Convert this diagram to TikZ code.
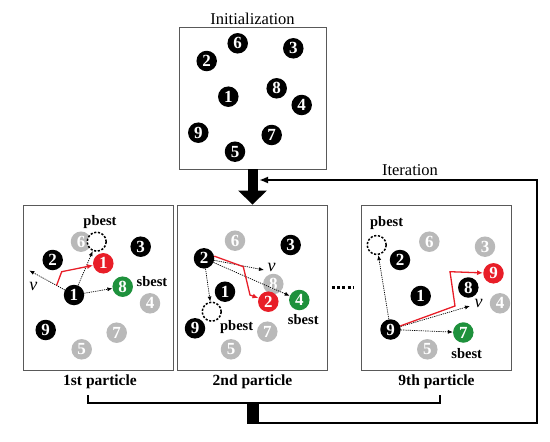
\documentclass[tikz,border=0pt]{standalone}
\usepackage{fontspec}
\setmainfont{Liberation Serif}
\usepackage{tikz}
\usetikzlibrary{arrows.meta, calc, positioning}

\definecolor{ballgrey}{RGB}{185,185,185}
\definecolor{ballred}{RGB}{232,30,40}
\definecolor{ballgreen}{RGB}{30,145,60}

\tikzset{
  ball/.style={circle, inner sep=0pt, minimum size=20.5pt, text=white, font=\bfseries\fontsize{17}{17}\selectfont},
  dark/.style={ball, fill=black},
  faded/.style={ball, fill=ballgrey},
  newpos/.style={ball, fill=ballred},
  best/.style={ball, fill=ballgreen},
  pmark/.style={circle, draw, fill=white, dash pattern=on 2.2pt off 1.6pt, line width=1.5pt, minimum size=19pt, inner sep=0pt},
  vel/.style={-{Latex[length=5pt,width=4pt]}, dash pattern=on 1.2pt off 1pt, line width=0.7pt},
  redmove/.style={-{Latex[length=6pt,width=5pt]}, ballred, line width=1.3pt},
  panelbox/.style={draw=black!65, line width=0.9pt, minimum width=150pt, minimum height=165pt},
  besttag/.style={font=\bfseries\fontsize{14.5}{14.5}\selectfont, inner sep=1pt},
  partcap/.style={font=\bfseries\fontsize{15.5}{15.5}\selectfont},
  veltxt/.style={font=\itshape\fontsize{18}{18}\selectfont, inner sep=1pt},
}

\begin{document}
\begin{tikzpicture}[x=1pt, y=-1pt, >=latex, font=\fontsize{16.5}{18}\selectfont]
    \useasboundingbox (0,0) rectangle (550,442);

    % 1. Khung khởi tạo
    \node[panelbox, minimum width=147pt, minimum height=142pt] (init) at (252.5,98) {};
    \node[above=-2pt of init] (inittxt) {Initialization};
    \node[dark] (i6) at (237.7,43.3) {6};
    \node[dark] (i3) at (293.3,48.3) {3};
    \node[dark] (i2) at (206.7,61) {2};
    \node[dark] (i1) at (228.3,96.7) {1};
    \node[dark] (i8) at (276.7,88.3) {8};
    \node[dark] (i4) at (301.7,105) {4};
    \node[dark] (i9) at (198.3,132.7) {9};
    \node[dark] (i7) at (271.7,135) {7};
    \node[dark] (i5) at (235,151.7) {5};

    % 2. Các khung hạt
    \node[panelbox] (p1) at (98,287.5) {};
    \node[panelbox] (p2) at (252.5,287.5) {};
    \node[panelbox] (p3) at (436.5,287.5) {};
    \node[partcap, below=1pt of p1, xshift=2pt] (cap1) {1st particle};
    \node[partcap, below=1pt of p2] (cap2) {2nd particle};
    \node[partcap, below=1pt of p3] (cap3) {9th particle};
    \draw[line width=3pt, dash pattern=on 3pt off 2.2pt] ([xshift=4pt]p2.east) -- ([xshift=-7pt]p3.west);

    % 3. Hạt thứ nhất
    \node[faded] (a6) at (81,241.7) {6};
    \node[pmark] (apb) at (96.7,241.7) {};
    \node[besttag] (apbtxt) at (100,222.3) {pbest};
    \node[dark] (a3) at (140.7,246.7) {3};
    \node[dark] (a2) at (52.7,260) {2};
    \node[newpos] (anew) at (103.3,263.3) {1};
    \node[dark] (a1) at (74,295) {1};
    \node[best] (a8) at (122.7,286.7) {8};
    \node[besttag] (asbtxt) at (152,281.7) {sbest};
    \node[faded] (a4) at (150,303.3) {4};
    \node[dark] (a9) at (45.7,330) {9};
    \node[faded] (a7) at (116.7,332.7) {7};
    \node[faded] (a5) at (81.7,349.3) {5};
    \coordinate (av) at (29.3,270.5);
    \node[veltxt] (avtxt) at (33.3,286) {v};
    \draw[vel] (a1) -- (av);
    \draw[vel] (a1) -- (apb);
    \draw[vel] (a1) -- (a8);
    \draw[redmove] ($(a1)!0.39!(av)$) -- (61.7,271.7) -- (anew);

    % 4. Hạt thứ hai
    \node[faded] (b6) at (235,240.7) {6};
    \node[dark] (b3) at (290.7,245) {3};
    \node[dark] (b2) at (204,258.3) {2};
    \node[faded] (b8) at (273.3,284) {8};
    \node[dark] (b1) at (225,291.7) {1};
    \node[newpos] (bnew) at (268.3,301.7) {2};
    \node[best] (b4) at (299.3,300) {4};
    \node[besttag] (bsbtxt) at (303.3,320) {sbest};
    \node[pmark] (bpb) at (211.7,311.7) {};
    \node[besttag] (bpbtxt) at (236.7,326.7) {pbest};
    \node[dark] (b9) at (195,328.3) {9};
    \node[faded] (b7) at (267.3,331.7) {7};
    \node[faded] (b5) at (231,349.3) {5};
    \coordinate (bv) at (264,270);
    \node[veltxt] (bvtxt) at (271.5,267.5) {v};
    \draw[vel] (b2) -- (bv);
    \draw[vel] (b2) -- (b4);
    \draw[vel] (b2) -- (bpb);
    \draw[redmove] (b2.12) -- (243.3,266.7) -- (250,295) -- (bnew);

    % 5. Hạt thứ chín
    \node[besttag] (cpbtxt) at (386.7,223.3) {pbest};
    \node[pmark] (cpb) at (376.7,245) {};
    \node[faded] (c6) at (429.3,241.7) {6};
    \node[faded] (c3) at (485,246.7) {3};
    \node[dark] (c2) at (400,260) {2};
    \node[newpos] (cnew) at (493.5,273.3) {9};
    \node[dark] (c8) at (468.3,287.5) {8};
    \node[dark] (c1) at (420.7,296) {1};
    \node[faded] (c4) at (500,303.3) {4};
    \node[dark] (c9) at (390.5,329.5) {9};
    \node[best] (c7) at (463.3,332.5) {7};
    \node[besttag] (csbtxt) at (466.7,353.3) {sbest};
    \node[faded] (c5) at (427.3,349.3) {5};
    \coordinate (cv) at (470,306);
    \node[veltxt] (cvtxt) at (478.5,303) {v};
    \draw[vel] (c9) -- (cv);
    \draw[vel] (c9) -- (cpb);
    \draw[vel] (c9) -- (c7);
    \draw[redmove] (c9) -- (455,306) -- (450,271.7) -- (cnew);

    % 6. Mũi tên và vòng lặp
    \draw[line width=10pt, -{Triangle[length=14pt,width=28pt]}] (init.south) -- (p2.north);
    \coordinate (bl) at (88,395);
    \coordinate (br) at (440,395);
    \coordinate (mid) at (252.5,403);
    \coordinate (join) at (252.5,423);
    \coordinate (itend) at (259,180);
    \draw[line width=2.5pt] (bl) |- (mid) -| (br);
    \draw[line width=12pt] (mid) -- ([yshift=-1pt]join);
    \draw[line width=2.2pt, -{Latex[length=9pt,width=7pt]}] (join) -| (537,180) -- (itend);
    \node (itertxt) at (410,170) {Iteration};
\end{tikzpicture}
\end{document}
